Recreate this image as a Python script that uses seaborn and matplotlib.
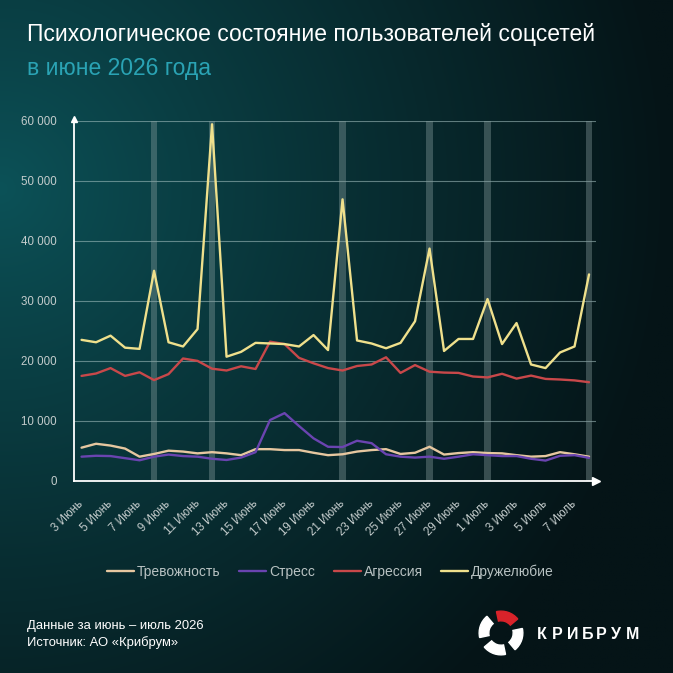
import numpy as np
import pandas as pd
import matplotlib.pyplot as plt
import matplotlib.ticker as mticker
from matplotlib.patches import Wedge
from matplotlib.transforms import ScaledTranslation
import seaborn as sns

# Data (number of mentions per day)
dates = ["3 Июнь", "4 Июнь", "5 Июнь", "6 Июнь", "7 Июнь", "8 Июнь", "9 Июнь", "10 Июнь",
         "11 Июнь", "12 Июнь", "13 Июнь", "14 Июнь", "15 Июнь", "16 Июнь", "17 Июнь", "18 Июнь",
         "19 Июнь", "20 Июнь", "21 Июнь", "22 Июнь", "23 Июнь", "24 Июнь", "25 Июнь", "26 Июнь",
         "27 Июнь", "28 Июнь", "29 Июнь", "30 Июнь", "1 Июль", "2 Июль", "3 Июль", "4 Июль",
         "5 Июль", "6 Июль", "7 Июль", "8 Июль"]

anxiety = [5550, 6200, 5900, 5400, 4050, 4500, 5050, 4900, 4600, 4800, 4600, 4300,
           5300, 5300, 5150, 5150, 4700, 4300, 4450, 4900, 5150, 5300, 4500, 4700,
           5700, 4400, 4650, 4800, 4650, 4600, 4300, 4050, 4150, 4800, 4450, 4050]

stress = [4050, 4200, 4150, 3800, 3450, 4050, 4400, 4150, 4050, 3700, 3500, 3900,
          4800, 10150, 11300, 9150, 7100, 5700, 5650, 6700, 6300, 4450, 4050, 3900,
          4050, 3700, 4050, 4450, 4300, 4150, 4150, 3700, 3400, 4200, 4300, 3850]

aggression = [17500, 17900, 18800, 17500, 18100, 16800, 17800, 20400, 20000, 18700, 18400, 19100,
              18650, 23200, 22800, 20500, 19600, 18800, 18400, 19150, 19400, 20600, 18000, 19300,
              18200, 18050, 18000, 17400, 17250, 17850, 17050, 17550, 17000, 16900, 16750, 16450]

friendliness = [23500, 23100, 24200, 22200, 22000, 35000, 23100, 22400, 25300, 59400, 20700, 21500,
                23000, 22900, 22800, 22400, 24300, 21800, 46900, 23400, 22900, 22100, 23000, 26600,
                38700, 21650, 23650, 23650, 30300, 22800, 26300, 19400, 18800, 21400, 22400, 34400]

series_names = ["Тревожность", "Стресс", "Агрессия", "Дружелюбие"]
series_colors = ["#e6c7a0", "#6a44b0", "#c8484a", "#efe08c"]

# highlighted days (friendliness peaks)
band_days = ["8 Июнь", "12 Июнь", "21 Июнь", "27 Июнь", "1 Июль", "8 Июль"]

df = pd.DataFrame({"day": dates, "Тревожность": anxiety, "Стресс": stress,
                   "Агрессия": aggression, "Дружелюбие": friendliness})
df["idx"] = range(len(df))
long_df = df.melt(id_vars=["day", "idx"], value_vars=series_names,
                  var_name="series", value_name="value")

sns.set_theme(style="dark")
plt.rcParams["font.family"] = ["Liberation Sans", "DejaVu Sans"]

fig = plt.figure(figsize=(6.73, 6.73), dpi=100)

# background gradient
bg = fig.add_axes([0, 0, 1, 1], zorder=-10)
gx, gy = np.meshgrid(np.linspace(0, 1, 300), np.linspace(0, 1, 300))
t = np.clip(np.sqrt((gx * 1.0) ** 2 + (gy - 0.28) ** 2) / 1.0, 0, 1) ** 0.9
c1 = np.array([12, 82, 88]) / 255
c2 = np.array([5, 20, 23]) / 255
img = c1 * (1 - t[..., None]) + c2 * t[..., None]
bg.imshow(img, extent=[0, 1, 0, 1], origin="upper", aspect="auto")
bg.axis("off")

ax = fig.add_axes([0.1104, 0.2853, 0.7756, 0.5354])
ax.patch.set_alpha(0)

for d in band_days:
    i = dates.index(d)
    ax.axvspan(i - 0.22, i + 0.22, color="#8aa0a0", alpha=0.38, lw=0, zorder=1)

sns.lineplot(data=long_df, x="idx", y="value", hue="series", hue_order=series_names,
             palette=series_colors, linewidth=1.7, sort=False, ax=ax, zorder=3)

ax.set_xlim(-0.5, len(dates) - 0.5)
ax.set_ylim(0, 60000)
ax.set_xlabel("")
ax.set_ylabel("")

ax.yaxis.set_major_locator(mticker.MultipleLocator(10000))
ax.yaxis.set_major_formatter(mticker.FuncFormatter(lambda v, p: f"{v:,.0f}".replace(",", " ")))
ax.grid(axis="y", color="#a8c4c4", alpha=0.55, lw=0.8)
ax.grid(axis="x", visible=False)

label_pos = list(range(0, len(dates), 2))
ax.set_xticks(label_pos)
ax.set_xticklabels([dates[i] for i in label_pos], rotation=45, ha="right",
                   rotation_mode="anchor")
ax.set_xticks([i - 0.5 for i in label_pos], minor=True)
ax.tick_params(axis="x", which="major", length=0, pad=12, labelsize=8.3, labelcolor="#c4cccc")
ax.tick_params(axis="x", which="minor", length=5, width=1.2, color="white", direction="out")
ax.tick_params(axis="y", length=0, pad=12.5, labelsize=8.3, labelcolor="#c4cccc")
shift = ScaledTranslation(-4 / 100, 0, fig.dpi_scale_trans)
for lbl in ax.get_xticklabels():
    lbl.set_transform(lbl.get_transform() + shift)

for s in ["top", "right"]:
    ax.spines[s].set_visible(False)
for s in ["left", "bottom"]:
    ax.spines[s].set_color("white")
    ax.spines[s].set_linewidth(1.3)
ax.plot(0, 1.005, marker="^", color="white", markersize=5, transform=ax.transAxes, clip_on=False)
ax.plot(1.0, 0, marker=">", color="white", markersize=6, transform=ax.transAxes, clip_on=False)

ax.legend(loc="center", bbox_to_anchor=(0.491, 1 - 572 / 673), bbox_transform=fig.transFigure,
          ncol=4, frameon=False, fontsize=10, labelcolor="#b8c2c2", handlelength=1.95,
          handletextpad=0.2, columnspacing=1.35)

# titles
fig.text(27 / 673, 1 - 41 / 673, "Психологическое состояние пользователей соцсетей",
         color="white", fontsize=16.5, va="baseline", ha="left")
fig.text(27 / 673, 1 - 75 / 673, "в июне 2026 года",
         color="#2aa3b4", fontsize=16.5, va="baseline", ha="left")

# footer
fig.text(27 / 673, 1 - 629 / 673, "Данные за июнь – июль 2026", color="white",
         fontsize=9.4, va="baseline")
fig.text(27 / 673, 1 - 646 / 673, "Источник: АО «Крибрум»", color="white",
         fontsize=9.4, va="baseline")

# logo
logo = fig.add_axes([478 / 673, 1 - 656 / 673, 46 / 673, 46 / 673])
logo.set_xlim(-1, 1)
logo.set_ylim(-1, 1)
logo.set_aspect("equal")
logo.axis("off")
for k, a in enumerate([40, 130, 220, 310]):
    logo.add_patch(Wedge((0, 0), 0.95, a, a + 62, width=0.42,
                         color="#d8232a" if k == 0 else "white"))
for k, ch in enumerate("КРИБРУМ"):
    fig.text((537 + k * 14.8) / 673, 1 - 639 / 673, ch, color="white", fontsize=11.5,
             fontweight="bold", va="baseline", ha="left")

fig.savefig("out.png", dpi=100)
